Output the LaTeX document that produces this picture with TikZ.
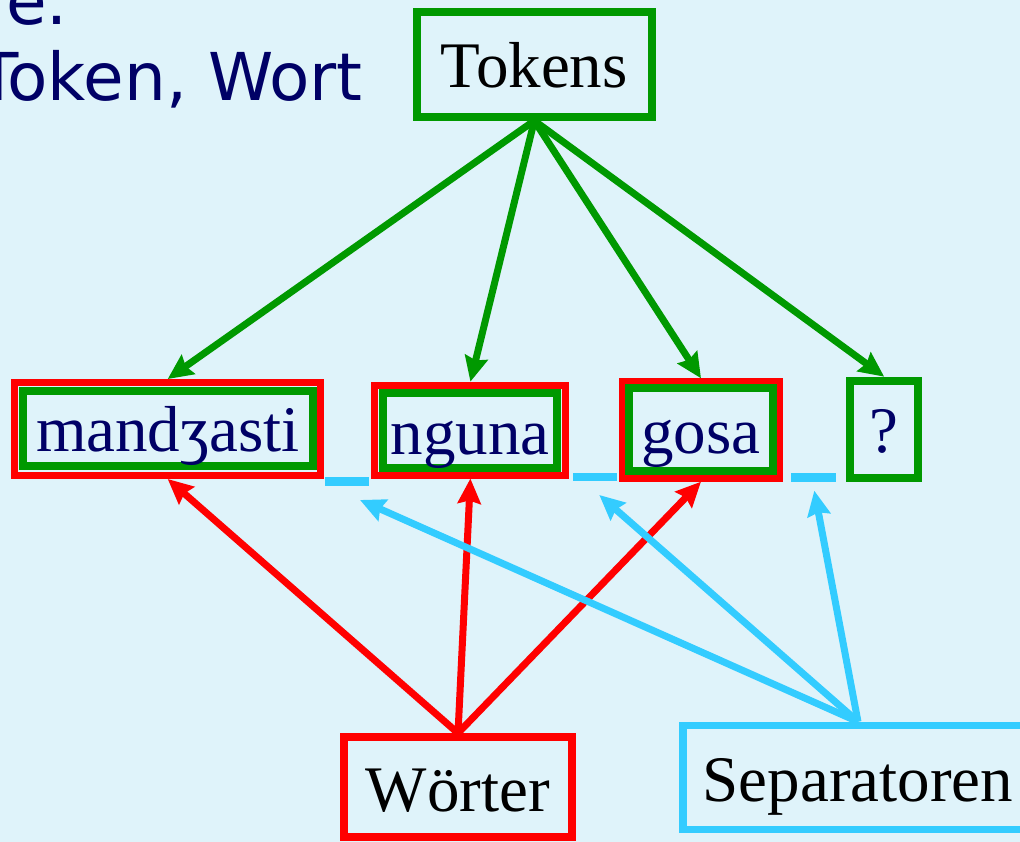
\documentclass[tikz,border=0pt]{standalone}
\usepackage{fontspec}
\setmainfont{Liberation Serif}
\newfontfamily\uisans{DejaVu Sans}
\usetikzlibrary{arrows.meta}
\definecolor{bgblue}{RGB}{223,243,250}
\definecolor{navy}{RGB}{0,0,102}
\definecolor{tokgreen}{RGB}{0,153,0}
\definecolor{wordred}{RGB}{255,0,0}
\definecolor{sepcyan}{RGB}{51,204,255}

\begin{document}
\begin{tikzpicture}[x=1pt,y=-1pt,
  lbl/.style={font=\fontsize{65}{65}\selectfont, text height=47pt, text depth=0pt,
              inner sep=0pt, rectangle},
  tokbox/.style={lbl, draw=tokgreen, line width=8pt},
  wordframe/.style={rectangle, inner sep=0pt, draw=wordred, line width=7pt},
  unitbox/.style={lbl, draw=tokgreen, line width=8pt, text=navy},
  wbox/.style={lbl, draw=wordred, line width=8pt},
  sepbox/.style={lbl, draw=sepcyan, line width=7.5pt},
  sepbar/.style={rectangle, fill=sepcyan, inner sep=0pt},
  head/.style={font=\uisans\fontsize{66}{66}\selectfont, text=navy,
               inner sep=0pt, anchor=base east},
  arr/.style={line width=7pt, -{Stealth[length=25pt,width=23pt,inset=3pt]}}
]
\useasboundingbox (0,0) rectangle (1020,842);
\fill[bgblue] (0,0) rectangle (1020,842);
\clip (0,0) rectangle (1020,842);

% heading fragments
\node[head] (hdA) at (68,25) {e.};
\node[head] (hdB) at (363,101) {Token, Wort};

% top concept
\node[tokbox, minimum width=235.3pt, minimum height=104.4pt] (tok) at (534.3,64.5) {Tokens};

% word frames (red) and token frames (green)
\node[wordframe, minimum width=305.5pt, minimum height=93pt] (w1r) at (167.7,429) {};
\node[unitbox, minimum width=290.4pt, minimum height=75.3pt] (w1) at (167.8,428.3) {mandʒasti};

\node[wordframe, minimum width=190.9pt, minimum height=89.8pt] (w2r) at (470.4,430.1) {};
\node[unitbox, minimum width=173.4pt, minimum height=74.4pt] (w2) at (470,430.5) {nguna};

\node[wordframe, minimum width=157pt, minimum height=96.4pt] (w3r) at (701,430) {};
\node[unitbox, minimum width=144pt, minimum height=82.7pt] (w3) at (701,429.7) {gosa};

\node[unitbox, minimum width=68.3pt, minimum height=97pt] (w4) at (884.2,429.2) {?};

% separators between the words
\node[sepbar, minimum width=44.3pt, minimum height=8.4pt] (d1) at (347.2,481.5) {};
\node[sepbar, minimum width=44pt, minimum height=8pt] (d2) at (594.7,476.7) {};
\node[sepbar, minimum width=45pt, minimum height=8.4pt] (d3) at (813.5,477.5) {};
\coordinate (t1) at (360,500);
\coordinate (t2) at (599.3,495);
\coordinate (t3) at (814.3,490.7);

% bottom concepts
\node[wbox, minimum width=228pt, minimum height=99.7pt, text height=49pt] (woe) at (458,787) {Wörter};
\node[sepbox, minimum width=350pt, minimum height=104pt] (sepn) at (858,777.5) {Separatoren};

% connectors
\draw[arr, tokgreen] (tok.south) -- (w1r.north);
\draw[arr, tokgreen] (tok.south) -- (w2r.north);
\draw[arr, tokgreen] (tok.south) -- (w3r.north);
\draw[arr, tokgreen] (tok.south) -- (w4.north);

\draw[arr, wordred] (woe.north) -- (w1r.south);
\draw[arr, wordred] (woe.north) -- (w2r.south);
\draw[arr, wordred] (woe.north) -- (w3r.south);

\draw[arr, sepcyan] (sepn.north) -- (t1);
\draw[arr, sepcyan] (sepn.north) -- (t2);
\draw[arr, sepcyan] (sepn.north) -- (t3);
\end{tikzpicture}
\end{document}
